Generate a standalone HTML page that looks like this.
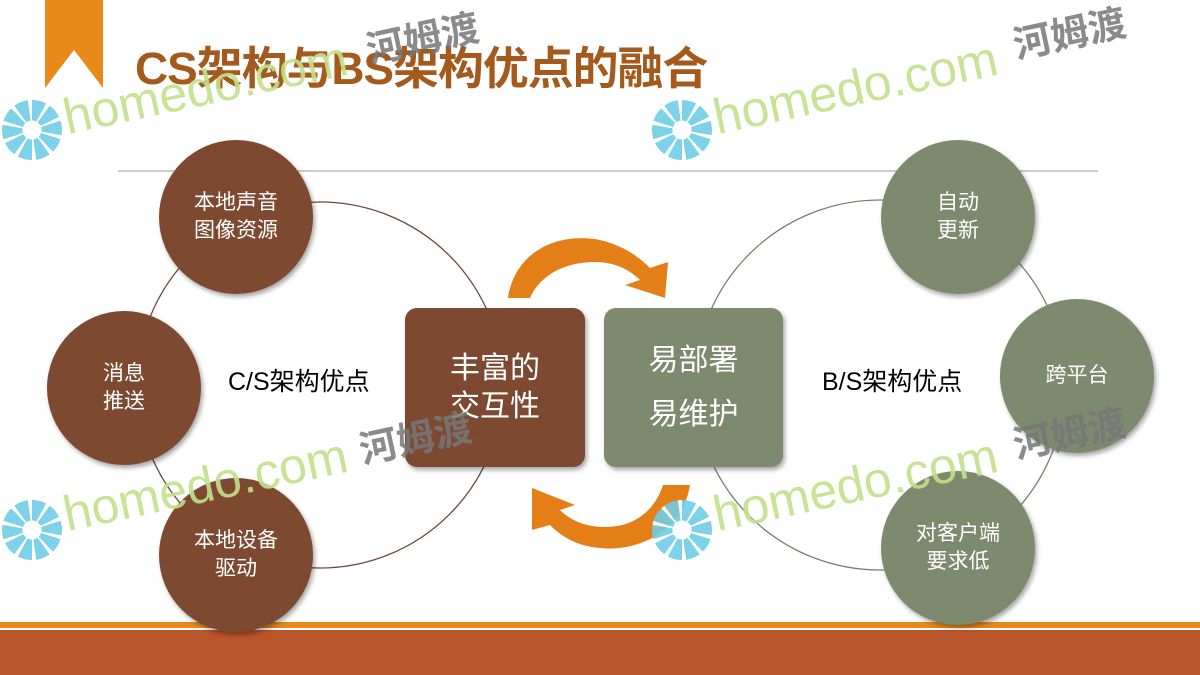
<!DOCTYPE html>
<html><head><meta charset="utf-8"><style>
body{margin:0;width:1200px;height:675px;overflow:hidden;background:#fff;position:relative;font-family:"Liberation Sans","Noto Sans CJK SC",sans-serif}
.a{position:absolute}
.c{position:absolute;border-radius:50%;color:#fff;display:flex;align-items:center;justify-content:center;text-align:center;font-size:21px;line-height:28px;box-shadow:2px 3px 5px rgba(0,0,0,.35)}
.br{background:#7d4a31}.gr{background:#7d8a6e}
.wm{position:absolute;font-size:50px;color:#c3e08a;transform:rotate(-12deg);transform-origin:left bottom;opacity:.9;white-space:nowrap}
.wh{position:absolute;font-size:38px;font-weight:bold;color:#777;transform:rotate(-12deg);opacity:.85}
.fl{position:absolute;width:60px;height:60px;border-radius:50%;background:radial-gradient(circle,#fff 0 9px,transparent 10px),repeating-conic-gradient(#6fcde6 0 28deg,#fff 28deg 36deg);opacity:.9}
</style></head><body>
<svg class="a" style="left:0;top:0" width="1200" height="675">
<polygon points="45,0 103,0 103,88 74,50 45,88" fill="#e8891a"/>
<line x1="118" y1="171" x2="1098" y2="171" stroke="#999" stroke-width="1"/>
<circle cx="320" cy="385" r="183" fill="none" stroke="#6b4a3a" stroke-width="1.3"/>
<circle cx="880" cy="385" r="185" fill="none" stroke="#7a806e" stroke-width="1.3"/>
<path d="M508,298 C515,250 560,232 600,240 C625,246 640,258 650,268 L668,262 L665,298 L625,285 L640,280 C630,270 615,262 595,262 C565,262 540,275 530,298 Z" fill="#e47f18"/>
<path d="M690,485 C683,530 640,552 600,548 C575,546 560,535 550,525 L532,530 L532,488 L575,505 L560,510 C570,520 585,527 605,527 C635,527 655,510 663,485 Z" fill="#e47f18"/>
<rect x="0" y="622" width="1200" height="6" fill="#e8891a"/>
<rect x="0" y="630" width="1200" height="45" fill="#b9552a"/>
</svg>
<div class="a" style="left:135px;top:32px;font-size:45px;font-weight:bold;color:#a35a1c;letter-spacing:-1px;transform:scaleX(1.02);transform-origin:left">CS架构与BS架构优点的融合</div>
<div class="fl" style="left:2px;top:100px"></div>
<div class="fl" style="left:652px;top:100px"></div>
<div class="fl" style="left:2px;top:500px"></div>
<div class="fl" style="left:652px;top:500px"></div>
<div class="c br" style="left:159px;top:140px;width:154px;height:154px">本地声音<br>图像资源</div>
<div class="c br" style="left:47px;top:311px;width:154px;height:154px">消息<br>推送</div>
<div class="c br" style="left:159px;top:478px;width:154px;height:154px">本地设备<br>驱动</div>
<div class="c gr" style="left:881px;top:140px;width:154px;height:154px">自动<br>更新</div>
<div class="c gr" style="left:1000px;top:299px;width:154px;height:154px">跨平台</div>
<div class="c gr" style="left:881px;top:471px;width:154px;height:154px">对客户端<br>要求低</div>
<div class="a" style="left:228px;top:362px;font-size:25px">C/S架构优点</div>
<div class="a" style="left:822px;top:362px;font-size:25px">B/S架构优点</div>
<div class="c br" style="left:405px;top:308px;width:180px;height:159px;border-radius:12px;font-size:30px;line-height:38px">丰富的<br>交互性</div>
<div class="c gr" style="left:604px;top:308px;width:179px;height:159px;border-radius:12px;font-size:30px;line-height:54px">易部署<br>易维护</div>
<div class="wm" style="left:70px;top:88px">homedo.com</div>
<div class="wh" style="left:365px;top:8px">河姆渡</div>
<div class="wm" style="left:720px;top:88px">homedo.com</div>
<div class="wh" style="left:1012px;top:3px">河姆渡</div>
<div class="wm" style="left:70px;top:485px">homedo.com</div>
<div class="wh" style="left:358px;top:408px">河姆渡</div>
<div class="wm" style="left:720px;top:485px">homedo.com</div>
<div class="wh" style="left:1012px;top:403px">河姆渡</div>
</body></html>
